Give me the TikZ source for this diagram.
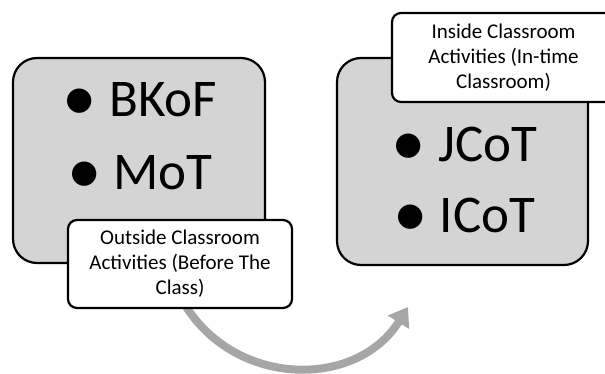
\documentclass[tikz,border=0pt]{standalone}
\usepackage{fontspec}
\setmainfont{Carlito}
\usetikzlibrary{arrows.meta}
\definecolor{boxgray}{RGB}{212,212,212}
\definecolor{arrowgray}{RGB}{166,166,166}
\newcommand\mybul{\raisebox{-4pt}{\scalebox{1.3}{\textbullet}}\hspace{12pt}}
\begin{document}
\begin{tikzpicture}[x=1pt,y=-1pt,
  bigbox/.style={draw=black, line width=2.2pt, fill=boxgray, rounded corners=24pt, inner sep=0pt},
  lblbox/.style={draw=black, line width=2.2pt, fill=white, rounded corners=9pt, align=center,
    font=\fontsize{21}{25}\selectfont, inner sep=0pt},
  item/.style={anchor=base, font=\fontsize{53}{60}\selectfont, inner sep=0pt},
  flow/.style={line width=8pt, draw=arrowgray, -{Triangle[width=24pt,length=18pt]}}]
\useasboundingbox (0,0) rectangle (605,374);
\clip (0,0) rectangle (605,374);
% curved arrow
\coordinate (s) at (182,300);
\coordinate (e) at (408,307);
\draw[flow] (s) .. controls (232,388) and (356,390) .. (e);
% left group
\node[bigbox, minimum width=252, minimum height=205] (L) at (139,160.5) {};
\node[item] (bkof) at (140,117) {\mybul BKoF};
\node[item] (mot) at (140,190) {\mybul MoT};
\node[lblbox, minimum width=224, minimum height=88] (Llbl) at (180,264)
  {Outside Classroom\\Activities (Before The\\Class)};
% right group
\node[bigbox, minimum width=251, minimum height=207] (R) at (462.5,161.5) {};
\node[item] (jcot) at (464.5,162) {\mybul JCoT};
\node[item] (icot) at (464.5,233) {\mybul ICoT};
\node[lblbox, minimum width=223, minimum height=89] (Rlbl) at (503.5,57.5)
  {Inside Classroom\\Activities (In-time\\Classroom)};
\end{tikzpicture}
\end{document}
